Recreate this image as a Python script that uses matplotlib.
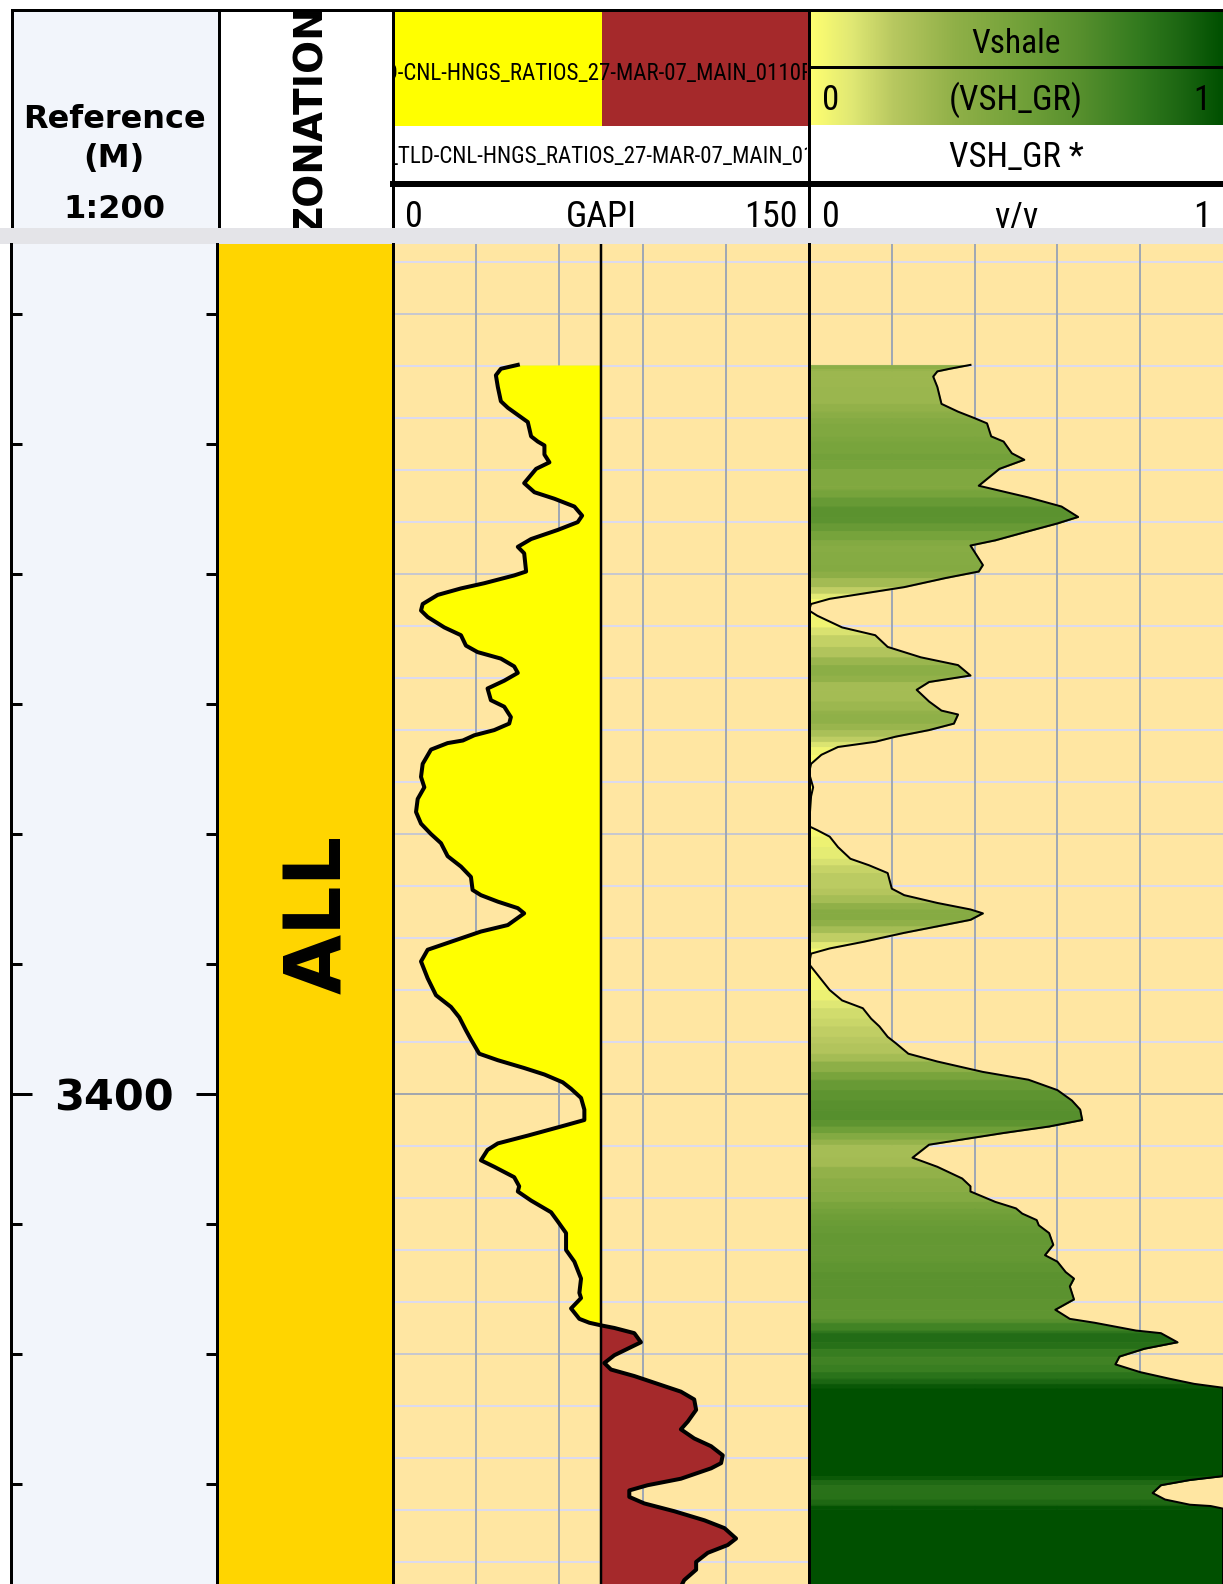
import numpy as np
import matplotlib.pyplot as plt
from matplotlib import font_manager
from matplotlib.colors import LinearSegmentedColormap
from matplotlib.patches import Rectangle
from matplotlib.ticker import MultipleLocator

# Gamma ray curve (GAPI) vs measured depth (m)
gr_depth = [3394.39, 3394.42, 3394.47, 3394.56, 3394.67, 3394.72, 3394.83, 3394.94, 3394.98, 3395.01,
            3395.08, 3395.14, 3395.19, 3395.30, 3395.37, 3395.42, 3395.48, 3395.55, 3395.60, 3395.66,
            3395.73, 3395.79, 3395.84, 3395.98, 3396.01, 3396.07, 3396.11, 3396.16, 3396.23, 3396.28,
            3396.33, 3396.41, 3396.47, 3396.55, 3396.60, 3396.65, 3396.71, 3396.76, 3396.82, 3396.88,
            3396.97, 3397.02, 3397.10, 3397.15, 3397.20, 3397.24, 3397.28, 3397.30, 3397.35, 3397.46,
            3397.56, 3397.64, 3397.73, 3397.83, 3397.92, 3398.00, 3398.07, 3398.17, 3398.25, 3398.33,
            3398.43, 3398.47, 3398.52, 3398.57, 3398.61, 3398.70, 3398.75, 3398.82, 3398.89, 3398.98,
            3399.11, 3399.24, 3399.33, 3399.41, 3399.51, 3399.58, 3399.69, 3399.74, 3399.80, 3399.85,
            3399.91, 3399.96, 3400.03, 3400.12, 3400.20, 3400.25, 3400.32, 3400.38, 3400.43, 3400.51,
            3400.56, 3400.64, 3400.71, 3400.75, 3400.82, 3400.91, 3400.98, 3401.07, 3401.20, 3401.29,
            3401.42, 3401.53, 3401.57, 3401.65, 3401.73, 3401.76, 3401.78, 3401.80, 3401.84, 3401.91,
            3401.96, 3402.01, 3402.07, 3402.12, 3402.17, 3402.23, 3402.29, 3402.35, 3402.43, 3402.52,
            3402.58, 3402.65, 3402.71, 3402.78, 3402.84, 3402.88, 3402.96, 3403.01, 3403.05, 3403.10,
            3403.15, 3403.21, 3403.28, 3403.34, 3403.42, 3403.47, 3403.53, 3403.60, 3403.66, 3403.74,
            3403.82]
gr_value = [45.0, 38.9, 37.1, 37.8, 38.9, 41.4, 48.6, 49.8, 52.2, 54.6,
            54.6, 56.4, 51.6, 47.3, 51.0, 58.2, 65.4, 68.2, 66.6, 59.4,
            49.8, 45.0, 47.3, 48.0, 43.7, 32.9, 24.5, 16.1, 10.7, 10.1,
            12.5, 18.5, 24.5, 26.3, 30.5, 38.9, 43.7, 45.0, 40.1, 34.1,
            35.3, 40.1, 42.5, 41.9, 36.5, 29.3, 25.2, 19.7, 13.7, 10.7,
            10.1, 11.3, 8.9, 8.3, 10.1, 13.7, 17.3, 19.7, 24.5, 28.1,
            28.7, 31.7, 37.8, 45.0, 47.3, 41.4, 31.7, 22.1, 12.5, 10.1,
            12.5, 15.5, 20.9, 23.9, 26.3, 28.1, 31.1, 37.8, 47.3, 54.6,
            61.2, 64.2, 67.8, 69.0, 69.0, 60.6, 48.6, 37.8, 34.1, 31.7,
            36.5, 43.7, 45.5, 45.0, 49.8, 57.0, 59.4, 62.4, 62.4, 65.4,
            67.8, 67.2, 67.8, 64.2, 67.2, 70.8, 75.0, 79.8, 87.0, 89.4,
            84.6, 79.8, 76.2, 78.6, 87.0, 95.4, 103.8, 108.6, 109.3, 106.3,
            103.8, 108.6, 114.7, 118.9, 118.3, 114.7, 103.8, 91.8, 85.2, 85.2,
            90.6, 101.4, 112.3, 119.5, 123.7, 120.7, 113.5, 109.3, 109.3, 105.0,
            103.1]

# Shale volume from GR (v/v)
vsh_depth = [3394.39, 3394.42, 3394.44, 3394.48, 3394.56, 3394.69, 3394.75, 3394.80, 3394.84, 3394.94,
             3394.98, 3395.07, 3395.12, 3395.19, 3395.32, 3395.35, 3395.41, 3395.48, 3395.56, 3395.61,
             3395.67, 3395.74, 3395.78, 3395.83, 3395.93, 3395.98, 3396.03, 3396.10, 3396.15, 3396.19,
             3396.23, 3396.28, 3396.32, 3396.41, 3396.47, 3396.56, 3396.64, 3396.70, 3396.78, 3396.83,
             3396.89, 3396.98, 3397.05, 3397.08, 3397.15, 3397.20, 3397.25, 3397.29, 3397.33, 3397.39,
             3397.46, 3397.53, 3397.64, 3397.71, 3397.94, 3397.97, 3398.02, 3398.10, 3398.19, 3398.24,
             3398.30, 3398.42, 3398.47, 3398.53, 3398.58, 3398.61, 3398.66, 3398.71, 3398.76, 3398.83,
             3398.88, 3398.92, 3399.00, 3399.10, 3399.20, 3399.28, 3399.34, 3399.42, 3399.48, 3399.56,
             3399.61, 3399.69, 3399.75, 3399.83, 3399.89, 3399.97, 3400.05, 3400.12, 3400.20, 3400.25,
             3400.30, 3400.35, 3400.39, 3400.49, 3400.56, 3400.65, 3400.71, 3400.75, 3400.83, 3400.88,
             3400.92, 3400.97, 3401.01, 3401.07, 3401.16, 3401.24, 3401.29, 3401.37, 3401.42, 3401.48,
             3401.58, 3401.66, 3401.73, 3401.76, 3401.82, 3401.84, 3401.91, 3401.96, 3402.02, 3402.08,
             3402.14, 3402.19, 3402.23, 3402.26, 3402.94, 3402.97, 3403.01, 3403.07, 3403.12, 3403.16,
             3403.17, 3403.19, 3403.82]
vsh_value = [0.39, 0.34, 0.31, 0.30, 0.31, 0.32, 0.36, 0.40, 0.43, 0.44,
             0.47, 0.49, 0.52, 0.46, 0.41, 0.45, 0.53, 0.61, 0.65, 0.60,
             0.53, 0.45, 0.39, 0.40, 0.42, 0.41, 0.33, 0.23, 0.13, 0.05,
             0.005, 0.0, 0.02, 0.08, 0.16, 0.19, 0.27, 0.36, 0.39, 0.29,
             0.26, 0.29, 0.32, 0.36, 0.35, 0.29, 0.21, 0.16, 0.07, 0.03,
             0.005, 0.0, 0.01, 0.005, 0.0, 0.02, 0.05, 0.07, 0.10, 0.145,
             0.19, 0.20, 0.23, 0.31, 0.39, 0.42, 0.39, 0.31, 0.23, 0.13,
             0.05, 0.005, 0.0, 0.025, 0.05, 0.08, 0.13, 0.15, 0.17, 0.19,
             0.21, 0.24, 0.31, 0.42, 0.53, 0.60, 0.635, 0.655, 0.66, 0.58,
             0.47, 0.37, 0.29, 0.25, 0.31, 0.37, 0.39, 0.39, 0.45, 0.50,
             0.515, 0.55, 0.555, 0.58, 0.59, 0.57, 0.60, 0.62, 0.64, 0.63,
             0.64, 0.595, 0.63, 0.69, 0.79, 0.85, 0.89, 0.81, 0.75, 0.74,
             0.80, 0.87, 0.93, 1.0, 1.0, 0.92, 0.85, 0.83, 0.86, 0.92,
             0.97, 1.0, 1.0]

zone_name = "ALL"
depth_label = 3400
gr_min, gr_max, gr_cutoff = 0, 150, 75
vsh_min, vsh_max = 0, 1
top_md, base_md = 3393.46, 3403.77
dataset_a = "TLD-CNL-HNGS_RATIOS_27-MAR-07_MAIN_0110PUP"
dataset_b = "HSGR_TLD-CNL-HNGS_RATIOS_27-MAR-07_MAIN_0110PUP"

W, H = 1223, 1584
HDR = 244

track_bg = "#FFE6A2"
ref_bg = "#F2F5FB"
sand = "#FFFF00"
shale = "#A5292B"
zone_col = "#FFD500"
vsh_cmap = LinearSegmentedColormap.from_list("vsh", [
    (0.0, "#FFFF70"), (0.1, "#E0E874"), (0.2, "#B8C860"), (0.35, "#90B048"),
    (0.5, "#74A23A"), (0.65, "#58902E"), (0.8, "#327A1E"), (0.9, "#1C6612"),
    (1.0, "#005000")])


def narrow_font():
    # a condensed face for the header captions, if one is installed
    for fam, st in (("Liberation Sans Narrow", "normal"), ("Roboto Condensed", "normal"),
                    ("DejaVu Sans", "condensed"), ("Roboto", "condensed"), ("Open Sans", "condensed")):
        try:
            path = font_manager.findfont(font_manager.FontProperties(family=fam, stretch=st),
                                         fallback_to_default=False)
        except ValueError:
            continue
        if st == "normal" or "ondensed" in path or "arrow" in path:
            return {"family": fam, "stretch": st}, 1.0
    return {"family": "DejaVu Sans"}, 0.82


cap, cap_scale = narrow_font()


def px(v):
    return v * 0.72


def place(x0, x1, y0, y1):
    return [x0 / W, 1 - y1 / H, (x1 - x0) / W, (y1 - y0) / H]


fig = plt.figure(figsize=(W / 100, H / 100), dpi=100)

# ---------- header, laid out in pixel units ----------
hdr = fig.add_axes(place(0, W, 0, HDR))
hdr.set_axis_off()
hdr.imshow(np.linspace(0, 1, 256)[None, :], cmap=vsh_cmap, extent=(810, W, 125, 12),
           aspect="auto", zorder=1)
hdr.set_xlim(0, W)
hdr.set_ylim(HDR, 0)
hdr.add_patch(Rectangle((12, 10), 207, 218, fc=ref_bg, lw=0, zorder=0))
hdr.add_patch(Rectangle((393, 12), 209, 114, fc=sand, lw=0, zorder=1))
hdr.add_patch(Rectangle((602, 12), 207, 114, fc=shale, lw=0, zorder=1))

k = dict(color="black", zorder=6)
hdr.plot([12, W], [10, 10], lw=px(3), **k)
for xv in (12, 219, 393, 809):
    hdr.plot([xv, xv], [10, 228], lw=px(3), **k)
hdr.plot([809, W], [67, 67], lw=px(3), **k)
hdr.plot([393, W], [183.5, 183.5], lw=px(6), **k)


def clip_to(t, x0, y0, w, h):
    t.set_clip_on(True)
    t.set_clip_path(Rectangle((x0, y0), w, h, transform=hdr.transData))
    return t


for txt, yb in (("Reference", 128), ("(M)", 167), ("1:200", 218)):
    hdr.text(114, yb, txt, ha="center", va="baseline", fontsize=23, fontweight="bold", zorder=3)

clip_to(hdr.text(311, 119, "ZONATION", rotation=90, ha="center", va="center",
                 fontsize=28, fontweight="bold", zorder=3), 221, 11, 170, 217)

small = 16.5 * cap_scale
clip_to(hdr.text(601, 80, dataset_a, ha="center", va="baseline", fontsize=small, zorder=3, **cap),
        395, 12, 412, 114)
clip_to(hdr.text(606, 163, dataset_b, ha="center", va="baseline", fontsize=small, zorder=3, **cap),
        395, 126, 412, 54)

big = 25 * cap_scale if cap_scale < 1 else 26
mid = 23 * cap_scale if cap_scale < 1 else 25
hdr.text(1016, 53, "Vshale", ha="center", va="baseline", fontsize=mid - 1, zorder=3, **cap)
hdr.text(831, 110, str(vsh_min), ha="center", va="baseline", fontsize=mid, zorder=3, **cap)
hdr.text(1016, 110, "(VSH_GR)", ha="center", va="baseline", fontsize=mid, zorder=3, **cap)
hdr.text(1202, 110, str(vsh_max), ha="center", va="baseline", fontsize=mid, zorder=3, **cap)
hdr.text(1016, 167, "VSH_GR *", ha="center", va="baseline", fontsize=mid, zorder=3, **cap)

for x, txt in ((414, str(gr_min)), (601, "GAPI"), (771, str(gr_max)),
               (831, str(vsh_min)), (1016, "v/v"), (1202, str(vsh_max))):
    hdr.text(x, 227, txt, ha="center", va="baseline", fontsize=big, zorder=3, **cap)

# separator band between header and log body
hdr.add_patch(Rectangle((0, 228), W, HDR - 228, fc="#E4E4E8", lw=0, zorder=10))


# ---------- log body ----------
def track(x0, x1, bg):
    ax = fig.add_axes(place(x0, x1, HDR, H))
    ax.set_facecolor(bg)
    ax.set_ylim(base_md, top_md)
    ax.set_xticks([])
    ax.set_yticks([])
    for s in ("top", "bottom"):
        ax.spines[s].set_visible(False)
    for s in ("left", "right"):
        ax.spines[s].set_linewidth(px(3))
    return ax


def depth_grid(ax):
    for d in np.arange(3393.6, base_md, 0.4):
        n = int(round(d * 10))
        if n % 100 == 0:
            c = "#A3A7AD"
        elif n % 20 == 0:
            c = "#C8C8CE"
        else:
            c = "#DCDAEE"
        ax.axhline(d, color=c, lw=px(2), zorder=0.5)


# depth reference column
ax_ref = track(11, 217, ref_bg)
ax_ref.set_xlim(0, 1)
ax_ref.yaxis.set_major_locator(MultipleLocator(10))
ax_ref.yaxis.set_minor_locator(MultipleLocator(1))
ax_ref.tick_params(axis="y", which="both", direction="in", left=True, right=True,
                   labelleft=False, width=px(3), color="black")
ax_ref.tick_params(axis="y", which="major", length=px(21))
ax_ref.tick_params(axis="y", which="minor", length=px(11))
ax_ref.text(0.5, depth_label, str(depth_label), ha="center", va="center_baseline",
            fontsize=31, fontweight="bold")

# zonation
ax_zon = track(217, 393, zone_col)
ax_zon.text(0.58, 0.5, zone_name, transform=ax_zon.transAxes, rotation=90,
            ha="center", va="center", fontsize=56, fontweight="bold")

# GR track with sand / shale fill about the cutoff
ax_gr = track(393, 809, track_bg)
ax_gr.set_xlim(gr_min, gr_max)
depth_grid(ax_gr)
for xv in np.arange(30, gr_max, 30):
    ax_gr.axvline(xv, color="#A0A8B4", lw=px(2), zorder=0.6)
gd = np.array(gr_depth)
gv = np.array(gr_value)
ax_gr.fill_betweenx(gd, gv, gr_cutoff, where=gv <= gr_cutoff, interpolate=True,
                    color=sand, lw=0, zorder=2)
ax_gr.fill_betweenx(gd, gv, gr_cutoff, where=gv >= gr_cutoff, interpolate=True,
                    color=shale, lw=0, zorder=2)
ax_gr.axvline(gr_cutoff, color="black", lw=px(2.5), zorder=3)
ax_gr.plot(gv, gd, color="black", lw=px(4), zorder=4, solid_joinstyle="round")

# Vshale track, filled from zero with colour by value
ax_vsh = track(809, W, track_bg)
ax_vsh.spines["right"].set_visible(False)
ax_vsh.set_xlim(vsh_min, vsh_max)
depth_grid(ax_vsh)
for xv in (0.2, 0.4, 0.6, 0.8):
    ax_vsh.axvline(xv, color="#A0A8B4", lw=px(2), zorder=0.6)
for i in range(len(vsh_depth) - 1):
    c = vsh_cmap((vsh_value[i] + vsh_value[i + 1]) / 2)
    ax_vsh.fill_betweenx(vsh_depth[i:i + 2], 0, vsh_value[i:i + 2], fc=c, ec=c, lw=0.6, zorder=2)
ax_vsh.plot(vsh_value, vsh_depth, color="black", lw=px(2), zorder=4)

fig.savefig("out.png", dpi=100)
